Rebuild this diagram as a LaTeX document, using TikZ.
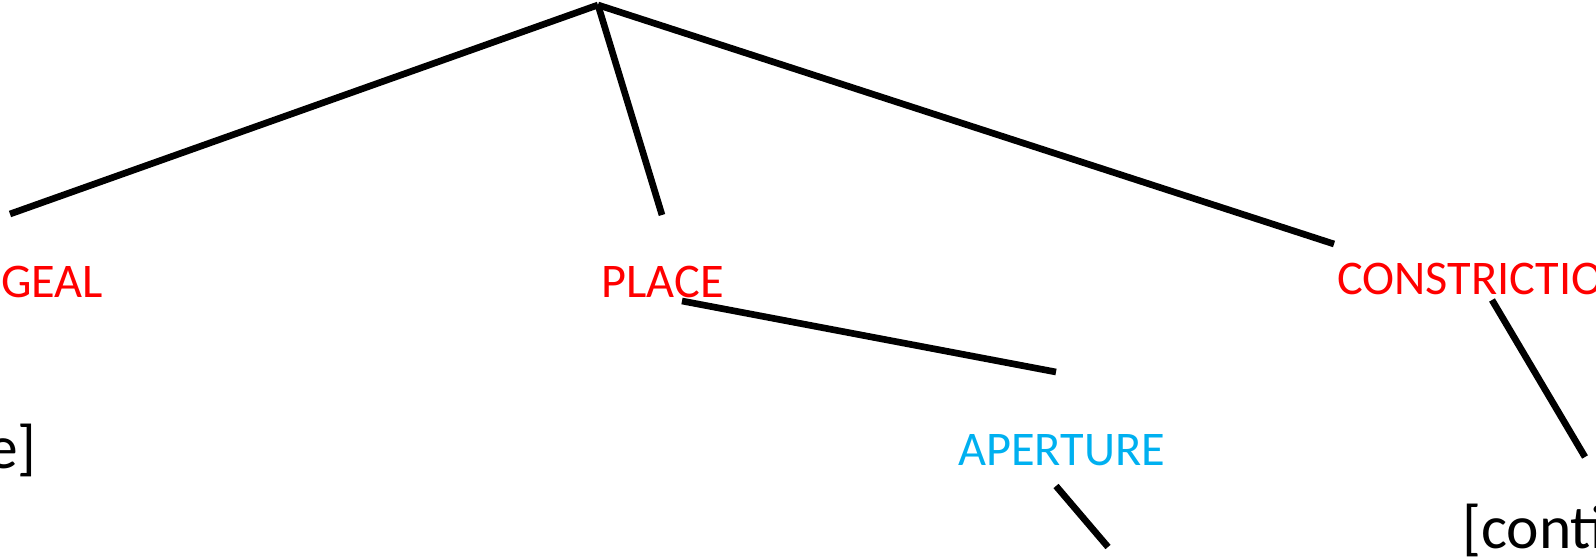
\documentclass[tikz,border=0pt]{standalone}
\usepackage{fontspec}
\setmainfont{Carlito}
\usepackage{xcolor}
\definecolor{featred}{HTML}{FF0000}
\definecolor{featblue}{HTML}{00B0F0}

\begin{document}
\begin{tikzpicture}[
  x=0.02cm, y=-0.02cm,
  featnode/.style={inner sep=0pt, anchor=base west, text=featred, font=\fontsize{27.5pt}{33pt}\selectfont},
  valnode/.style={inner sep=0pt, anchor=base west, text=black, font=\fontsize{35pt}{42pt}\selectfont},
  branch/.style={line width=3.8pt}
]
\useasboundingbox (0,0) rectangle (1596,557);
\clip (0,0) rectangle (1596,557);

\node[featnode] (nLar) at (1,297) {GEAL};
\node[featnode] (nPlace) at (601,297) {PLACE};
\node[featnode] (nCons) at (1337,295) {CONSTRICTIO};
\node[featnode, text=featblue] (nAper) at (958,465) {APERTURE};
\node[valnode, anchor=base east] (nVoice) at (37,468) {e]};
\node[valnode] (nCont) at (1462,548) {[conti};

\coordinate (root) at (598,5);
\coordinate (tLar) at (10,214);
\coordinate (tPlace) at (662,215);
\coordinate (tCons) at (1334,244);
\coordinate (sPlace) at (682,301);
\coordinate (tAper) at (1056,372);
\coordinate (sCons) at (1492,300);
\coordinate (tCont) at (1585,457);
\coordinate (sAper) at (1056,486);
\coordinate (tLow) at (1108,547);

\draw[branch] (root) -- (tLar);
\draw[branch] (root) -- (tPlace);
\draw[branch] (root) -- (tCons);
\draw[branch] (sPlace) -- (tAper);
\draw[branch] (sCons) -- (tCont);
\draw[branch] (sAper) -- (tLow);

\end{tikzpicture}
\end{document}
